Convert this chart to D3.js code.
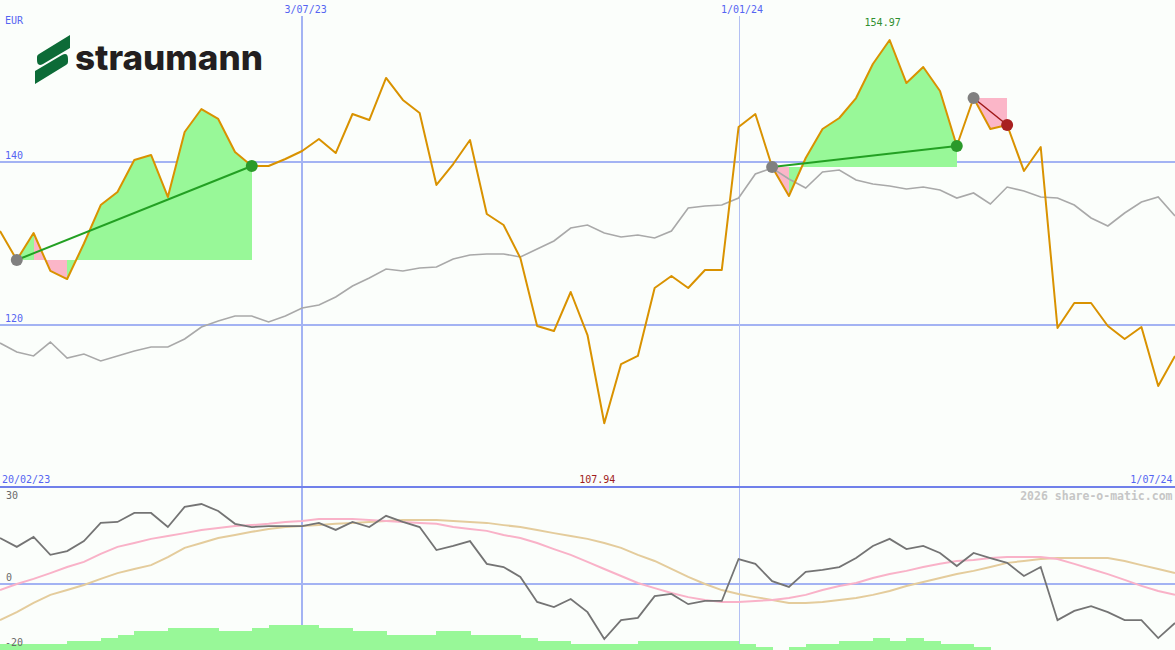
<!DOCTYPE html>
<html><head><meta charset="utf-8">
<script src="https://cdn.jsdelivr.net/npm/d3@7"></script>
<style>html,body{margin:0;padding:0;background:#fbfefb;} svg{display:block;}</style>
</head><body>
<svg id="c" width="1175" height="650"></svg>
<script>
// ---------- DATA ----------
const startDate = "2023-02-27";          // first weekly point (Mondays)
const endDate = "2024-07-01";
const currency = "EUR";
const price = [131.53,127.98,131.29,126.63,125.64,130.0,134.72,136.32,140.25,140.86,
  135.71,143.68,146.50,145.28,141.23,139.51,139.51,140.37,141.35,142.82,
  141.10,145.89,145.15,150.31,147.61,146.01,137.18,139.75,142.70,133.62,
  132.27,128.22,119.88,119.26,124.05,118.77,107.94,115.21,116.20,124.54,
  126.01,124.54,126.75,126.75,144.29,145.89,139.39,135.83,140.49,144.05,
  145.40,147.85,152.02,154.97,149.69,151.66,148.71,141.96,147.85,144.05,
  144.54,138.90,141.84,119.63,122.70,122.70,119.88,118.28,119.75,112.52,116.20];
const indexLine = [117.79,116.69,116.20,117.91,115.95,116.44,115.58,116.20,116.81,117.30,
  117.30,118.28,119.75,120.49,121.10,121.10,120.37,121.10,122.09,122.45,
  123.44,124.79,125.77,126.87,126.63,126.99,127.12,128.10,128.59,128.71,
  128.71,128.34,129.33,130.31,131.90,132.27,131.29,130.80,131.04,130.67,
  131.53,134.36,134.60,134.72,135.58,138.53,139.26,137.91,136.81,138.77,
  139.02,137.79,137.30,137.06,136.69,136.93,136.56,135.58,136.20,134.85,
  136.93,136.44,135.71,135.58,134.72,133.13,132.15,133.74,135.09,135.71,133.37];
const momentum = [14.4,11.6,14.7,9.1,10.3,13.4,19.1,19.4,22.2,22.2,
  17.8,24.1,25.0,22.8,18.8,17.8,18.1,18.1,18.1,19.1,
  16.9,19.4,17.8,21.3,19.4,17.8,10.6,11.9,13.4,6.3,
  5.3,2.2,-5.6,-7.2,-4.7,-8.8,-17.2,-11.3,-10.6,-3.8,
  -3.1,-6.3,-5.3,-5.3,7.8,6.3,0.9,-0.9,3.8,4.4,
  5.3,8.1,11.9,14.1,10.9,11.9,9.7,5.6,9.7,8.1,
  6.6,2.5,5.3,-11.3,-8.4,-6.9,-8.8,-11.3,-11.3,-16.9,-12.2];
const maFast = [-1.9,0,1.6,3.4,5.3,6.9,9.4,11.6,12.8,14.1,
  15.0,15.9,16.9,17.5,18.1,18.4,18.8,19.4,19.7,20.3,
  20.3,20.3,20.0,19.7,19.4,19.1,18.8,17.8,17.2,16.6,
  15.3,14.4,12.8,10.9,9.1,6.9,4.7,2.5,0.3,-1.3,
  -2.8,-4.1,-5.0,-5.6,-5.6,-5.3,-5.0,-4.4,-3.4,-1.9,
  -0.6,0.3,1.9,3.1,4.1,5.3,6.3,7.2,7.5,8.1,
  8.4,8.4,8.4,7.8,6.3,4.7,3.1,1.3,-0.6,-2.2,-3.4];
const maSlow = [-11.3,-8.8,-5.9,-3.4,-1.9,-0.3,1.6,3.4,4.7,5.9,
  8.4,11.3,12.8,14.4,15.3,16.3,17.2,17.8,18.1,18.4,
  18.8,19.1,19.4,19.7,20.0,20.0,20.0,19.7,19.4,19.1,
  18.4,17.8,16.9,15.9,15.0,14.1,12.8,11.3,9.1,7.2,
  4.7,2.2,0.0,-1.9,-3.1,-4.1,-5.0,-5.9,-5.9,-5.6,
  -5.0,-4.4,-3.4,-2.2,-0.6,0.6,1.9,3.1,4.1,5.3,
  6.6,7.2,7.8,8.1,8.1,8.1,8.1,7.2,5.9,4.7,3.4];
const volume = [6,6,6,6,9,9,12,15,19,19, 22,22,22,19,19,22,25,25,25,22,
  22,19,19,15,15,15,19,19,15,15, 15,12,9,9,6,6,6,6,9,9,
  9,9,9,9,6,3,0,3,6,6, 9,9,12,9,12,9,6,6,3,0, 0,0,0,0,0,0,0,0,0,0];
const priceTicks = [140, 120];
const lowerTicks = [30, 0, -20];
const dateTicks = ["2023-07-03", "2024-01-01"];
const dateTickLabels = ["3/07/23", "1/01/24"];
const rangeLabels = ["20/02/23", "1/07/24"];
const credit = "2026 share-o-matic.com";
const annotations = [
  {from: 1, to: 15, kind: "gain"},
  {from: 46, to: 57, kind: "gain"},
  {from: 58, to: 60, kind: "loss"}
];

// ---------- SCALES ----------
const W = 1175, H = 650;
const parse = d3.utcParse("%Y-%m-%d");
const t0 = parse(startDate);
const dates = price.map((_, i) => d3.utcDay.offset(t0, 7 * i));
const x = d3.scaleUtc().domain([t0, parse(endDate)]).range([0, W]);
const y = d3.scaleLinear().domain([120, 140]).range([325, 162]);
const yl = d3.scaleLinear().domain([-20, 30]).range([648, 488]);
const yv = d3.scaleLinear().domain([0, 25]).range([650, 625]);

const svg = d3.select("#c");
const FONT = "'DejaVu Sans Mono', monospace";
const BLUE_TXT = "#5565f2", GRID = "#a3b3f3";

svg.append("rect").attr("width", W).attr("height", H).attr("fill", "#fbfefb");

// ---------- MAIN PANEL ----------
const grid = svg.append("g");
priceTicks.forEach(v => {
  grid.append("line").attr("x1", 0).attr("x2", W).attr("y1", y(v)).attr("y2", y(v))
    .attr("stroke", GRID).attr("stroke-width", 2);
});
dateTicks.forEach((d, k) => {
  const xx = Math.round(x(parse(d)));
  grid.append("line").attr("x1", xx).attr("x2", xx).attr("y1", 16).attr("y2", H)
    .attr("stroke", k === 0 ? GRID : "#b3c0f3").attr("stroke-width", k === 0 ? 2 : 1)
    .attr("transform", k === 0 ? null : "translate(0.5,0)");
});

// annotation fills
const fillG = svg.append("g").attr("shape-rendering", "crispEdges");
annotations.forEach(a => {
  const base = price[a.from];
  for (let i = a.from; i < a.to; i++) {
    const pts = [[x(dates[i]), y(base)], [x(dates[i]), y(price[i])],
                 [x(dates[i + 1]), y(price[i + 1])], [x(dates[i + 1]), y(base)]];
    fillG.append("path").attr("d", d3.line()(pts) + "Z")
      .attr("fill", price[i + 1] >= base ? "#98f898" : "#fbb6c8");
  }
});

// index line (grey)
svg.append("path").datum(indexLine)
  .attr("d", d3.line().x((d, i) => x(dates[i])).y(d => y(d)))
  .attr("fill", "none").attr("stroke", "#a9a9a9").attr("stroke-width", 1.6);

// price line (orange)
svg.append("path").datum(price)
  .attr("d", d3.line().x((d, i) => x(dates[i])).y(d => y(d)))
  .attr("fill", "none").attr("stroke", "#d99200").attr("stroke-width", 2)
  .attr("stroke-linejoin", "round");

// annotation lines and dots
annotations.forEach(a => {
  const p0 = [x(dates[a.from]), y(price[a.from])], p1 = [x(dates[a.to]), y(price[a.to])];
  const gain = a.kind === "gain";
  svg.append("line").attr("x1", p0[0]).attr("y1", p0[1]).attr("x2", p1[0]).attr("y2", p1[1])
    .attr("stroke", gain ? "#23a023" : "#a01818").attr("stroke-width", gain ? 2 : 1.5);
  svg.append("circle").attr("cx", p0[0]).attr("cy", p0[1]).attr("r", 6).attr("fill", "#808080");
  svg.append("circle").attr("cx", p1[0]).attr("cy", p1[1]).attr("r", 6)
    .attr("fill", gain ? "#2a9a2a" : "#a82020");
});

// labels
const txt = (s, xx, yy, col, anchor = "start", size = 10, weight = "normal") =>
  svg.append("text").attr("x", xx).attr("y", yy).attr("fill", col)
    .attr("font-family", FONT).attr("font-size", size).attr("font-weight", weight)
    .attr("text-anchor", anchor).text(s);

txt(currency, 5, 24, BLUE_TXT);
priceTicks.forEach(v => txt(String(v), 5, y(v) - 3, BLUE_TXT));
dateTicks.forEach((d, k) => txt(dateTickLabels[k], x(parse(d)) + 3.5, 12.5, BLUE_TXT, "middle"));

const iMax = d3.maxIndex(price), iMin = d3.minIndex(price);
txt(d3.format(".2f")(price[iMax]), x(dates[iMax]) - 7, 25.5, "#2f8f2f", "middle");
txt(d3.format(".2f")(price[iMin]), x(dates[iMin]) - 7, 483, "#a01c1c", "middle");

// ---------- LOWER PANEL ----------
svg.append("line").attr("x1", 0).attr("x2", W).attr("y1", yl(0)).attr("y2", yl(0))
  .attr("stroke", GRID).attr("stroke-width", 2);
svg.append("line").attr("x1", 0).attr("x2", W).attr("y1", yl(30) - 1).attr("y2", yl(30) - 1)
  .attr("stroke", "#7080ea").attr("stroke-width", 2);

const lineL = d3.line().x((d, i) => x(dates[i])).y(d => yl(d));
svg.append("path").datum(maSlow).attr("d", lineL).attr("fill", "none")
  .attr("stroke", "#e4cc9c").attr("stroke-width", 2);
svg.append("path").datum(maFast).attr("d", lineL).attr("fill", "none")
  .attr("stroke", "#f9b2c8").attr("stroke-width", 2);
svg.append("path").datum(momentum).attr("d", lineL).attr("fill", "none")
  .attr("stroke", "#747474").attr("stroke-width", 1.8);

svg.append("g").attr("shape-rendering", "crispEdges").selectAll("rect")
  .data(volume).join("rect")
  .attr("x", (d, i) => x(dates[i])).attr("width", (d, i) => x(dates[i + 1]) - x(dates[i]) + 0.5)
  .attr("y", d => yv(d)).attr("height", d => yv(0) - yv(d))
  .attr("fill", "#98f898");

txt(rangeLabels[0], 2, 483, BLUE_TXT);
txt(rangeLabels[1], 1172.5, 483, BLUE_TXT, "end");
txt(credit, 1172.5, 500, "#c6c6c6", "end", 11.5, "bold");
txt(String(lowerTicks[0]), 6, 499, "#6a6a6a");
txt(String(lowerTicks[1]), 6, yl(0) - 3, "#6a6a6a");
txt(String(lowerTicks[2]), 5, 646, "#6a6a6a");

// ---------- LOGO ----------
const logo = svg.append("g");
logo.append("path").attr("d", "M70,35 L70,48 L43,64 Q37,67 37,60 L37,57 Q37,55 39,54 Z").attr("fill", "#0c6b37");
logo.append("path").attr("d", "M35,84 L35,71 L62,55 Q68,52 68,59 L68,62 Q68,64 66,65 Z").attr("fill", "#0c6b37");
logo.append("text").attr("x", 75).attr("y", 70).attr("font-family", "Inter, Lato, sans-serif")
  .attr("font-weight", 800).attr("font-size", 35).attr("fill", "#231f20")
  .attr("textLength", 188).attr("lengthAdjust", "spacingAndGlyphs").text("straumann");
</script>
</body></html>
